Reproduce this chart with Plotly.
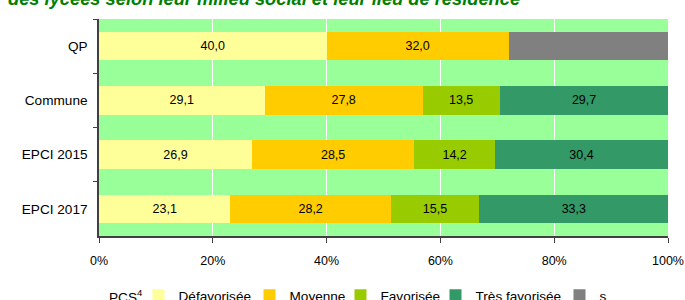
import plotly.graph_objects as go

categories = ["QP", "Commune", "EPCI 2015", "EPCI 2017"]
defavorisee = [40.0, 29.1, 26.9, 23.1]
moyenne = [32.0, 27.8, 28.5, 28.2]
favorisee = [None, 13.5, 14.2, 15.5]
tres_favorisee = [None, 29.7, 30.4, 33.3]
secret = [28.0, None, None, None]
x_ticks = [0, 20, 40, 60, 80, 100]
x_ticklabels = ["0%", "20%", "40%", "60%", "80%", "100%"]

series = [
    ("Défavorisée", defavorisee, "#FFFF99", True, 66),
    ("Moyenne", moyenne, "#FFCC00", True, 46),
    ("Favorisée", favorisee, "#99CC00", True, 50),
    ("Très favorisée", tres_favorisee, "#339966", True, 79),
    ("s", secret, "#808080", False, None),
]

def fmt(v):
    return "" if v is None else f"{v:.1f}".replace(".", ",")

FONT = "Liberation Sans, Arial, sans-serif"

fig = go.Figure()
for name, vals, color, show_text, lw in series:
    kw = {}
    if lw is not None:
        kw["legendwidth"] = lw
    fig.add_trace(go.Bar(
        y=categories, x=vals, name=name, orientation="h",
        marker=dict(color=color, line=dict(width=0)),
        text=[fmt(v) if show_text else "" for v in vals],
        textposition="inside", insidetextanchor="middle",
        textfont=dict(family=FONT, size=12.5, color="#000000"),
        width=0.523,
        **kw,
    ))

fig.update_layout(
    barmode="stack",
    width=685, height=300,
    margin=dict(l=99, r=17, t=19, b=64, autoexpand=False),
    paper_bgcolor="white",
    plot_bgcolor="#99FF99",
    font=dict(family=FONT, size=12.5, color="#000000"),
    showlegend=True,
    legend=dict(
        orientation="h", x=(138.5 - 99) / 569, xanchor="left",
        y=-(295.5 - 236) / 217, yanchor="middle",
        font=dict(size=13.6), itemwidth=30, traceorder="normal",
        bgcolor="rgba(0,0,0,0)", borderwidth=0,
    ),
    annotations=[
        dict(
            text="<b><i>des lycées selon leur milieu social et leur lieu de résidence</i></b>",
            xref="paper", yref="paper", x=(6 - 99) / 569, y=1,
            xanchor="left", yanchor="middle", yshift=20.5, showarrow=False,
            font=dict(family=FONT, size=18.3, color="#008000"),
        ),
        dict(
            text="PCS<sup>4</sup>",
            xref="paper", yref="paper", x=(106.5 - 99) / 569, y=-(295.5 - 236) / 217,
            xanchor="left", yanchor="middle", showarrow=False,
            font=dict(family=FONT, size=13.6, color="#000000"),
        ),
    ],
)
fig.update_xaxes(
    range=[0, 100], tickvals=x_ticks, ticktext=x_ticklabels,
    showgrid=True, gridcolor="white", gridwidth=1,
    showline=True, linecolor="#404040", linewidth=1.5,
    ticks="outside", ticklen=5, tickcolor="#404040", zeroline=False,
    tickfont=dict(size=12.5), ticklabelstandoff=7, automargin=False,
)
fig.update_yaxes(
    autorange="reversed", tickson="boundaries", ticks="outside", ticklen=4,
    tickcolor="#404040", showline=True, linecolor="#404040", linewidth=1.5,
    showgrid=False, tickfont=dict(size=13.6), ticklabelstandoff=7, automargin=False,
)

fig.write_html(
    "out.html",
    config={"displayModeBar": False},
    post_script="document.body.style.margin='0';document.body.style.overflow='hidden';",
)
